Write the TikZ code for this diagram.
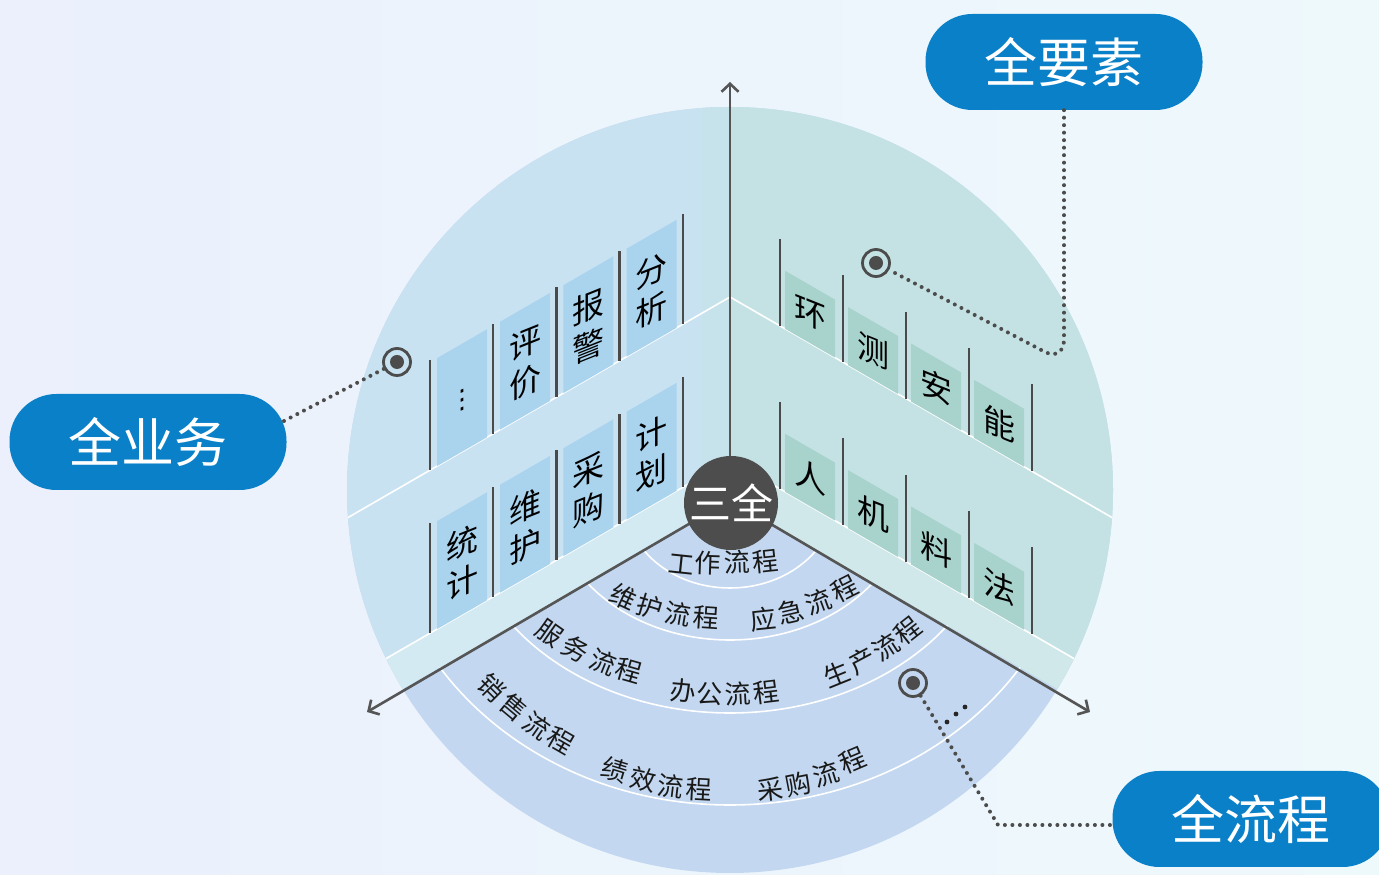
\documentclass[tikz,border=0pt]{standalone}
\usepackage{fontspec}
\setmainfont{Noto Sans CJK SC}
\newfontfamily\dejavu{DejaVu Sans}
\usetikzlibrary{arrows.meta}
\definecolor{bgL}{HTML}{EBF0FC}
\definecolor{bgM}{HTML}{FFFFFF}
\definecolor{bgR}{HTML}{EEF9FC}
\definecolor{floorc}{HTML}{C3D8F0}
\definecolor{lwallc}{HTML}{C8E2F2}
\definecolor{rwallc}{HTML}{C4E2E4}
\definecolor{lbandc}{HTML}{D3EAF2}
\definecolor{rbandc}{HTML}{D0E8E9}
\definecolor{lstripc}{HTML}{C6E2EA}
\definecolor{lbookc}{HTML}{AAD4EE}
\definecolor{rbookc}{HTML}{A8D2CC}
\definecolor{sepc}{HTML}{4A4A4A}
\definecolor{axisc}{HTML}{555555}
\definecolor{darkc}{HTML}{4D4D4D}
\definecolor{pillc}{HTML}{0A80C8}
\definecolor{ringc}{HTML}{4C4C4C}

\newcommand\LBook[4]{%
 \pgfmathsetmacro\bxa{#2+7}%
 \pgfmathsetmacro\bxb{#2+57}%
 \pgfmathsetmacro\bya{#3-(730-\bxa)*0.57735}%
 \pgfmathsetmacro\byb{#3-(730-\bxb)*0.57735}%
 \pgfmathsetmacro\bxm{#2+32}%
 \pgfmathsetmacro\bym{#3-(730-\bxm)*0.57735+52}%
 \fill[lbookc] (\bxa,\bya) -- (\bxb,\byb) -- (\bxb,\byb+108) -- (\bxa,\bya+108) -- cycle;
 \begin{scope}[shift={(\bxm,\bym)}, yslant=0.4]
   \node[booktxt, transform shape] (#1) at (0,0) {#4};
 \end{scope}}
\newcommand\LSep[2]{%
 \pgfmathsetmacro\sepy{#2-(730-#1)*0.57735}%
 \draw[sepline] (#1,\sepy) -- ++(0,110);}
\newcommand\RBook[4]{%
 \pgfmathsetmacro\bxa{#2+5}%
 \pgfmathsetmacro\bxb{#2+55}%
 \pgfmathsetmacro\bya{#3-(\bxa-730)*0.57735}%
 \pgfmathsetmacro\byb{#3-(\bxb-730)*0.57735}%
 \pgfmathsetmacro\bxm{#2+30}%
 \pgfmathsetmacro\bym{#3-(\bxm-730)*0.57735+29}%
 \fill[rbookc] (\bxa,\bya) -- (\bxb,\byb) -- (\bxb,\byb+58) -- (\bxa,\bya+58) -- cycle;
 \begin{scope}[shift={(\bxm,\bym)}, yslant=-0.4]
   \node[booktxt, transform shape] (#1) at (0,0) {#4};
 \end{scope}}
\newcommand\RSep[2]{%
 \pgfmathsetmacro\sepy{#2-(#1-730)*0.57735}%
 \draw[sepline] (#1,\sepy) -- ++(0,87);}
\newcommand\FC[4]{\node[flowtxt, rotate=#3] at (#1,{875-#2}) {#4};}

\begin{document}
\begin{tikzpicture}[x=1pt,y=1pt,
  booktxt/.style={inner sep=0pt, align=center, text=black, font=\fontsize{32}{39}\selectfont},
  flowtxt/.style={inner sep=0pt, text=black!90, font=\fontsize{26}{28}\selectfont},
  sepline/.style={draw=sepc, line width=2.4pt},
  axisline/.style={draw=axisc, line width=2.6pt, -{Straight Barb[length=8pt,width=17pt,line width=2.6pt]}},
  shelfline/.style={draw=white, line width=1.6pt},
  arcline/.style={draw=white, line width=1.6pt},
  pill/.style={fill=pillc, rounded corners=47pt, minimum width=277pt, minimum height=96pt, inner sep=0pt, text=white, font=\fontsize{53}{60}\selectfont},
  ring/.style={circle, draw=ringc, line width=2.8pt, minimum size=27pt, inner sep=0pt},
  dotline/.style={draw=ringc, line width=4pt, line cap=round, dash pattern=on 0pt off 7.5pt},
]
\useasboundingbox (0,0) rectangle (1379,875);
\clip (0,0) rectangle (1379,875);
\shade[left color=bgL, middle color=bgM, right color=bgR] (0,0) rectangle (1379,875);

% big disc
\fill[floorc] (730,385) circle (383);
\begin{scope}
  \clip (730,385) circle (383);
  \fill[lwallc] (730,375) -- (730,800) -- (330,800) -- (330,{375-400*0.57735}) -- cycle;
  \fill[rwallc] (730,375) -- (730,800) -- (1130,800) -- (1130,{375-400*0.57735}) -- cycle;
  \fill[lstripc] (702,{415-28*0.57735}) -- (702,800) -- (730,800) -- (730,415) -- cycle;
  \fill[lbandc] (730,375) -- (730,415) -- (330,{415-400*0.57735}) -- (330,{375-400*0.57735}) -- cycle;
  \fill[rbandc] (730,375) -- (730,415) -- (1130,{415-400*0.57735}) -- (1130,{375-400*0.57735}) -- cycle;
  \draw[shelfline] (330,{578-400*0.57735}) -- (730,578) -- (1130,{578-400*0.57735});
  \draw[shelfline] (330,{415-400*0.57735}) -- (730,415) -- (1130,{415-400*0.57735});
\end{scope}

% floor arcs
\begin{scope}
  \clip (730,385) circle (383);
  \clip (730,375) -- ({730-700*0.866},{375-700*0.5}) -- ({730+700*0.866},{375-700*0.5}) -- cycle;
  \draw[arcline] (730,375) ellipse [x radius=105, y radius=88];
  \draw[arcline] (730,375) ellipse [x radius=177, y radius=140];
  \draw[arcline] (730,375) ellipse [x radius=269, y radius=213];
  \draw[arcline] (730,375) ellipse [x radius=347, y radius=305];
\end{scope}

% left wall books (top shelf base 578, bottom shelf base 415)
\LBook{bkdots}{430}{578}{\dejavu\fontsize{26}{30}\selectfont ⋮}
\LBook{bkpj}{493.2}{578}{评\\价}
\LBook{bkbj}{556.4}{578}{报\\警}
\LBook{bkfx}{619.6}{578}{分\\析}
\LBook{bktj}{430}{415}{统\\计}
\LBook{bkwh}{493.2}{415}{维\\护}
\LBook{bkcg}{556.4}{415}{采\\购}
\LBook{bkjh}{619.6}{415}{计\\划}
\foreach \s in {430,493.2,556.4,619.6,682.8} {\LSep{\s}{578}\LSep{\s}{415}}

% right wall books
\RBook{bkh}{780}{578}{环}
\RBook{bkc}{843}{578}{测}
\RBook{bka}{906}{578}{安}
\RBook{bkn}{969}{578}{能}
\RBook{bkr}{780}{415}{人}
\RBook{bkj}{843}{415}{机}
\RBook{bkl}{906}{415}{料}
\RBook{bkf}{969}{415}{法}
\foreach \s in {780,843,906,969,1032} {\RSep{\s}{578}\RSep{\s}{415}}

% floor texts
\FC{681}{565}{-6}{工}\FC{708}{563}{-2}{作}\FC{737}{562}{2}{流}\FC{765}{561}{6}{程}
\FC{623}{597}{-25}{维}\FC{650}{607}{-17}{护}\FC{678}{614}{-10}{流}\FC{706}{618}{-4}{程}
\FC{763}{619}{6}{应}\FC{791}{612}{13}{急}\FC{818}{602}{20}{流}\FC{845}{589}{27}{程}
\FC{550}{633}{-35}{服}\FC{576}{649}{-28}{务}\FC{603}{662}{-22}{流}\FC{629}{671}{-16}{程}
\FC{683}{691}{-5}{办}\FC{710}{694}{-1}{公}\FC{738}{694}{3}{流}\FC{766}{692}{7}{程}
\FC{837}{674}{22}{生}\FC{862}{661}{28}{产}\FC{886}{647}{33}{流}\FC{908}{631}{38}{程}
\FC{492}{688}{-45}{销}\FC{514}{707}{-40}{售}\FC{537}{726}{-35}{流}\FC{561}{741}{-30}{程}
\FC{615}{770}{-17}{绩}\FC{643}{780}{-12}{效}\FC{671}{786}{-7}{流}\FC{699}{789}{-3}{程}
\FC{770}{789}{6}{采}\FC{798}{784}{11}{购}\FC{826}{774}{17}{流}\FC{853}{760}{23}{程}

% axes
\coordinate (O) at (730,375);
\coordinate (tipT) at (730,793);
\coordinate (tipL) at (367,163);
\coordinate (tipR) at (1090,163);
\draw[axisline] (O) -- (tipT);
\draw[axisline] (O) -- (tipL);
\draw[axisline] (O) -- (tipR);
\node[circle, fill=darkc, minimum size=94pt, inner sep=0pt, text=white, font=\fontsize{42}{46}\selectfont] (sq) at (731,372) {三全};

% ellipsis on floor
\fill[black!85] (947,153) circle (2.4) (956,161) circle (2.4) (965,168) circle (2.4);

% targets
\node[ring] (dotL) at (397,513) {};
\node[ring] (dotR) at (876,612) {};
\node[ring] (dotF) at (913,192) {};
\foreach \d in {dotL,dotR,dotF} {\fill[ringc] (\d) circle (7);}

% callouts
\node[pill] (qyw) at (148,433) {全业务};
\node[pill] (qys) at (1064,813) {全要素};
\node[pill] (qlc) at (1251,56) {全流程};
\coordinate (qywo) at (284,454);
\draw[dotline] (qywo) -- (dotL);
\draw[dotline, rounded corners=22pt] (qys.south) -- (1064,513) -- (dotR);
\draw[dotline] (dotF) -- (998,50) -- (qlc.west |- 0,50);
\end{tikzpicture}
\end{document}
